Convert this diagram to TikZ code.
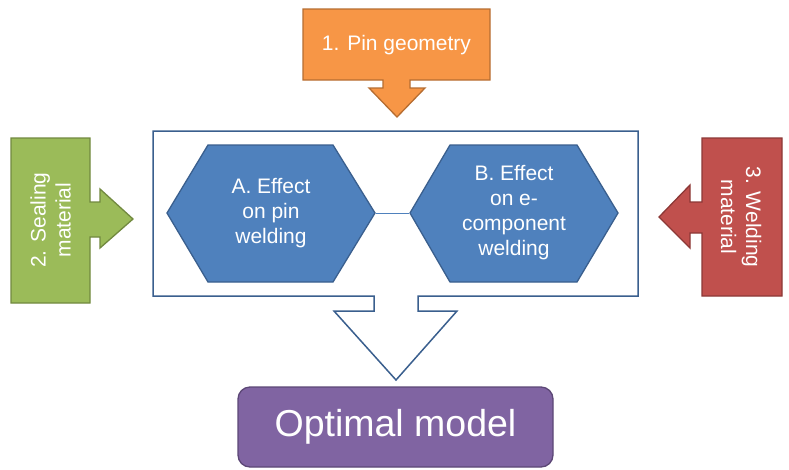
\documentclass[tikz,border=0pt]{standalone}
\usepackage{fontspec}
\setmainfont{Liberation Sans}
\begin{document}
\begin{tikzpicture}[x=1pt,y=-1pt,
  label/.style={text=white,align=center,font=\fontsize{21}{25}\selectfont},
  orangebox/.style={fill=orangeF,draw=orangeD,line width=1.3pt,line join=miter},
  greenbox/.style={fill=greenF,draw=greenD,line width=1.3pt,line join=miter},
  redbox/.style={fill=redF,draw=redD,line width=1.3pt,line join=miter},
  hexbox/.style={fill=blueF,draw=blueD,line width=1.3pt,line join=miter},
  frame/.style={fill=white,draw=blueD,line width=1.5pt,line join=miter},
  link/.style={draw=blueF,line width=1pt}]
\definecolor{orangeF}{HTML}{F79646}\definecolor{orangeD}{HTML}{B66D31}
\definecolor{greenF}{HTML}{9BBB59}\definecolor{greenD}{HTML}{71893F}
\definecolor{redF}{HTML}{C0504D}\definecolor{redD}{HTML}{8C3836}
\definecolor{blueF}{HTML}{4F81BD}\definecolor{blueD}{HTML}{3A5F8E}
\definecolor{purpleF}{HTML}{8064A2}\definecolor{purpleD}{HTML}{5C4776}
\useasboundingbox (0,0) rectangle (789,469);

% central frame with down-pointing arrow
\draw[frame] (153,131) -- (638,131) -- (638,296) -- (418,296) -- (418,311)
  -- (457,311) -- (396,380) -- (334,311) -- (374,311) -- (374,296)
  -- (153,296) -- cycle;

% top callout
\draw[orangebox] (303,9) -- (490,9) -- (490,80) -- (410,80) -- (410,88)
  -- (425,88) -- (397,117) -- (369,88) -- (383,88) -- (383,80) -- (303,80) -- cycle;
\node[label] (pin) at (396.5,45) {1. Pin geometry};

% left callout
\draw[greenbox] (11,138) -- (90,138) -- (90,202) -- (100,202) -- (100,189)
  -- (133,219) -- (100,248) -- (100,237) -- (90,237) -- (90,303) -- (11,303) -- cycle;
\node[label,rotate=90] (seal) at (50.5,220) {2. Sealing\\material};

% right callout
\draw[redbox] (782,138) -- (702,138) -- (702,202) -- (690,202) -- (690,185)
  -- (659,217) -- (690,248) -- (690,233) -- (702,233) -- (702,296) -- (782,296) -- cycle;
\node[label,rotate=-90] (weld) at (741,217) {3. Welding\\material};

% hexagons
\draw[hexbox] (167,213) -- (208,145) -- (333,145) -- (375,213) -- (333,282) -- (208,282) -- cycle;
\node[label] (effA) at (271,213) {A. Effect\\on pin\\welding};
\draw[hexbox] (410,213) -- (450,145) -- (577,145) -- (618,213) -- (577,282) -- (450,282) -- cycle;
\node[label] (effB) at (514,213) {B. Effect\\on e-\\component\\welding};
\coordinate (Aright) at (375.6,213);
\coordinate (Bleft) at (409.4,213);
\draw[link] (Aright) -- (Bleft);

% result
\node[fill=purpleF,draw=purpleD,line width=1.3pt,rounded corners=12pt,
  minimum width=315pt,minimum height=80pt,text=white,
  font=\fontsize{37.5}{40}\selectfont] (model) at (395.5,427) {Optimal model};
\end{tikzpicture}
\end{document}
